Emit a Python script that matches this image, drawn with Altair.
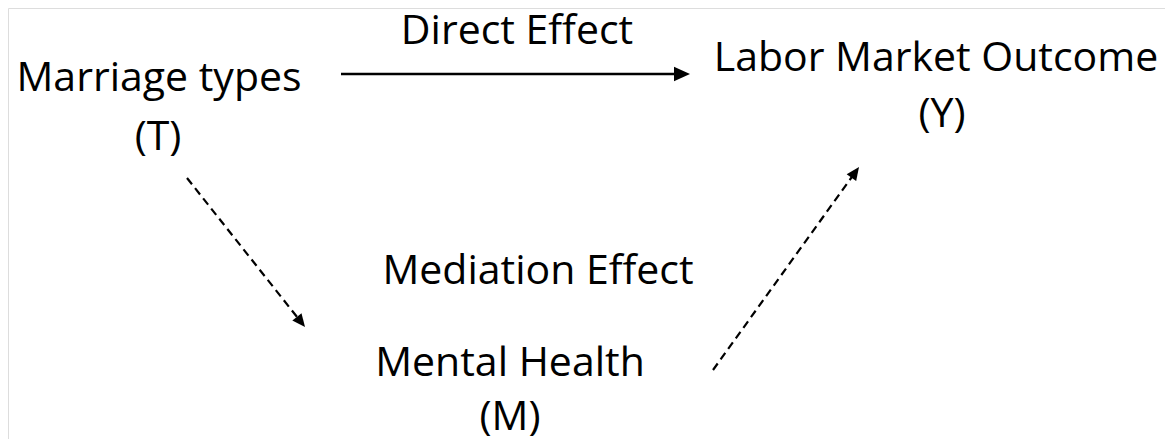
import math
import altair as alt
import pandas as pd

# Diagram labels: text, centre x, baseline y (page pixels)
label_text = ["Direct Effect", "Marriage types", "(T)", "Labor Market Outcome", "(Y)",
              "Mediation Effect", "Mental Health", "(M)"]
label_x = [517, 159, 158, 936, 942, 538, 510, 510]
label_y = [44, 91, 150, 71, 127, 284, 376, 430]

# Arrows: start and tip (page pixels)
solid_x1 = [341]
solid_y1 = [74]
solid_x2 = [690]
solid_y2 = [74]

dash_x1 = [187, 713]
dash_y1 = [178, 370]
dash_x2 = [305, 859]
dash_y2 = [327, 167]

W, H = 1157, 431
xs = alt.Scale(domain=[8, 8 + W], range=[0, W])
ys = alt.Scale(domain=[8, 8 + H], reverse=True)


def arrows(x1, y1, x2, y2, head_len):
    rows = []
    for a, b, c, d in zip(x1, y1, x2, y2):
        dx, dy = c - a, d - b
        L = math.hypot(dx, dy)
        ang = math.degrees(math.atan2(dy, dx)) % 360
        rows.append(dict(x=a, y=b, xe=c - dx / L * head_len * 0.9, ye=d - dy / L * head_len * 0.9,
                         tx=c, ty=d, angle=ang))
    return pd.DataFrame(rows)


solid = arrows(solid_x1, solid_y1, solid_x2, solid_y2, 16)
dashed = arrows(dash_x1, dash_y1, dash_x2, dash_y2, 13)

labels = pd.DataFrame(dict(text=label_text, x=label_x, y=label_y))

head_path = "M0,0L-2,-0.9L-2,0.9Z"

solid_line = alt.Chart(solid).mark_rule(color="black", strokeWidth=2.6).encode(
    x=alt.X("x:Q", scale=xs, axis=None), y=alt.Y("y:Q", scale=ys, axis=None),
    x2="xe:Q", y2="ye:Q")
solid_head = alt.Chart(solid).mark_point(shape=head_path, filled=True, color="black",
                                         opacity=1, size=256, strokeWidth=0).encode(
    x=alt.X("tx:Q", scale=xs, axis=None), y=alt.Y("ty:Q", scale=ys, axis=None),
    angle=alt.Angle("angle:Q", scale=None))

dash_line = alt.Chart(dashed).mark_rule(color="black", strokeWidth=2.2,
                                        strokeDash=[8, 5]).encode(
    x=alt.X("x:Q", scale=xs, axis=None), y=alt.Y("y:Q", scale=ys, axis=None),
    x2="xe:Q", y2="ye:Q")
dash_head = alt.Chart(dashed).mark_point(shape=head_path, filled=True, color="black",
                                         opacity=1, size=169, strokeWidth=0).encode(
    x=alt.X("tx:Q", scale=xs, axis=None), y=alt.Y("ty:Q", scale=ys, axis=None),
    angle=alt.Angle("angle:Q", scale=None))

text = alt.Chart(labels).mark_text(font="Open Sans", fontSize=41, color="black",
                                   align="center", baseline="alphabetic").encode(
    x=alt.X("x:Q", scale=xs, axis=None), y=alt.Y("y:Q", scale=ys, axis=None),
    text="text:N")

chart = alt.layer(solid_line, solid_head, dash_line, dash_head, text).properties(
    width=W, height=H, padding=0, autosize=alt.AutoSizeParams(type="none")
).configure_view(stroke=None).configure(background="white")

chart.save("out.html", embed_options={"renderer": "svg", "actions": False})
